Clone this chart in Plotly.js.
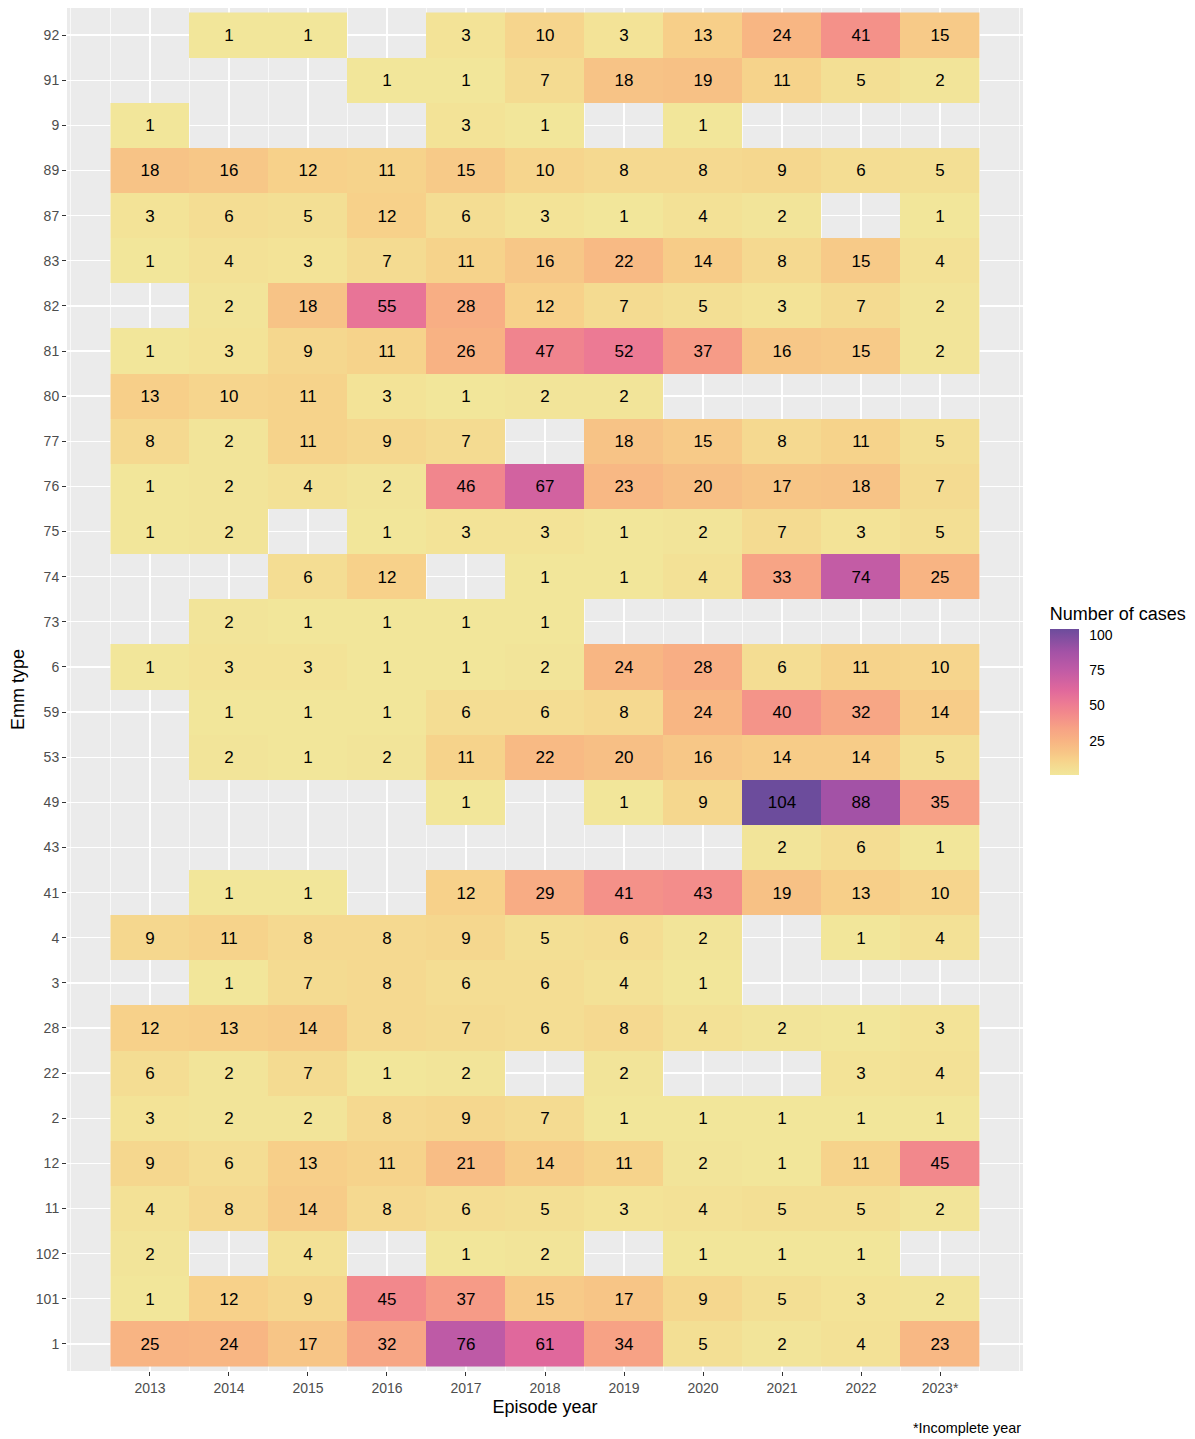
<!DOCTYPE html>
<html>
<head>
<meta charset="utf-8">
<script src="https://cdn.plot.ly/plotly-3.0.1.min.js"></script>
<style>
  html, body { margin: 0; padding: 0; background: #ffffff; }
  #chart { width: 1195px; height: 1439px; }
</style>
</head>
<body>
<div id="chart"></div>
<script>
// Episode years (x) and their tick labels
const years = [2013, 2014, 2015, 2016, 2017, 2018, 2019, 2020, 2021, 2022, 2023];
const yearLabels = ['2013', '2014', '2015', '2016', '2017', '2018', '2019', '2020', '2021', '2022', '2023*'];

// Emm types, bottom to top
const emmTypes = ['1', '101', '102', '11', '12', '2', '22', '28', '3', '4', '41', '43', '49', '53', '59',
                  '6', '73', '74', '75', '76', '77', '80', '81', '82', '83', '87', '89', '9', '91', '92'];

// Number of cases, one row per Emm type (same order), one column per year
const cases = [
  [25, 24, 17, 32, 76, 61, 34, 5, 2, 4, 23],              // 1
  [1, 12, 9, 45, 37, 15, 17, 9, 5, 3, 2],                 // 101
  [2, null, 4, null, 1, 2, null, 1, 1, 1, null],          // 102
  [4, 8, 14, 8, 6, 5, 3, 4, 5, 5, 2],                     // 11
  [9, 6, 13, 11, 21, 14, 11, 2, 1, 11, 45],               // 12
  [3, 2, 2, 8, 9, 7, 1, 1, 1, 1, 1],                      // 2
  [6, 2, 7, 1, 2, null, 2, null, null, 3, 4],             // 22
  [12, 13, 14, 8, 7, 6, 8, 4, 2, 1, 3],                   // 28
  [null, 1, 7, 8, 6, 6, 4, 1, null, null, null],          // 3
  [9, 11, 8, 8, 9, 5, 6, 2, null, 1, 4],                  // 4
  [null, 1, 1, null, 12, 29, 41, 43, 19, 13, 10],         // 41
  [null, null, null, null, null, null, null, null, 2, 6, 1], // 43
  [null, null, null, null, 1, null, 1, 9, 104, 88, 35],   // 49
  [null, 2, 1, 2, 11, 22, 20, 16, 14, 14, 5],             // 53
  [null, 1, 1, 1, 6, 6, 8, 24, 40, 32, 14],               // 59
  [1, 3, 3, 1, 1, 2, 24, 28, 6, 11, 10],                  // 6
  [null, 2, 1, 1, 1, 1, null, null, null, null, null],    // 73
  [null, null, 6, 12, null, 1, 1, 4, 33, 74, 25],         // 74
  [1, 2, null, 1, 3, 3, 1, 2, 7, 3, 5],                   // 75
  [1, 2, 4, 2, 46, 67, 23, 20, 17, 18, 7],                // 76
  [8, 2, 11, 9, 7, null, 18, 15, 8, 11, 5],               // 77
  [13, 10, 11, 3, 1, 2, 2, null, null, null, null],       // 80
  [1, 3, 9, 11, 26, 47, 52, 37, 16, 15, 2],               // 81
  [null, 2, 18, 55, 28, 12, 7, 5, 3, 7, 2],               // 82
  [1, 4, 3, 7, 11, 16, 22, 14, 8, 15, 4],                 // 83
  [3, 6, 5, 12, 6, 3, 1, 4, 2, null, 1],                  // 87
  [18, 16, 12, 11, 15, 10, 8, 8, 9, 6, 5],                // 89
  [1, null, null, null, 3, 1, null, 1, null, null, null], // 9
  [null, null, null, 1, 1, 7, 18, 19, 11, 5, 2],          // 91
  [null, 1, 1, null, 3, 10, 3, 13, 24, 41, 15]            // 92
];

const legendTicks = [25, 50, 75, 100];

const zMin = 1, zMax = 104;
function stop(v) { return (v - zMin) / (zMax - zMin); }
const colorscale = [
  [stop(1), '#F2E69A'],
  [stop(5), '#F3DF94'],
  [stop(12), '#F7D18A'],
  [stop(17), '#F7C586'],
  [stop(25), '#F8B483'],
  [stop(34), '#F7A285'],
  [stop(45), '#F2888C'],
  [stop(52), '#EC7A94'],
  [stop(61), '#E0689C'],
  [stop(76), '#BE5AA6'],
  [stop(88), '#A352A6'],
  [stop(104), '#6C4C9C']
];

const textVals = cases.map(r => r.map(v => (v === null ? '' : String(v))));
const FONT = 'Liberation Sans, Arial, sans-serif';

const trace = {
  type: 'heatmap',
  x: years,
  y: emmTypes,
  z: cases,
  text: textVals,
  texttemplate: '%{text}',
  textfont: { family: FONT, size: 17, color: '#000000' },
  colorscale: colorscale,
  zmin: zMin,
  zmax: zMax,
  xgap: 0,
  ygap: 0,
  hoverongaps: false,
  colorbar: {
    title: { text: 'Number of cases', side: 'top', font: { family: FONT, size: 18, color: '#000000' } },
    tickvals: legendTicks,
    ticktext: legendTicks.map(String),
    ticks: 'outside',
    ticklen: 8,
    tickcolor: 'rgba(0,0,0,0)',
    tickwidth: 1,
    tickfont: { family: FONT, size: 14, color: '#000000' },
    thickness: 29,
    thicknessmode: 'pixels',
    len: 171,
    lenmode: 'pixels',
    x: 1.028,
    xanchor: 'left',
    y: 0.4373,
    yanchor: 'bottom',
    outlinewidth: 0,
    xpad: 0,
    ypad: 0
  }
};

const layout = {
  width: 1195,
  height: 1439,
  margin: { l: 67, r: 172, t: 8, b: 68 },
  paper_bgcolor: '#ffffff',
  plot_bgcolor: '#EBEBEB',
  font: { family: FONT, color: '#4D4D4D' },
  xaxis: {
    type: 'linear',
    range: [2011.95, 2024.05],
    tickvals: years,
    ticktext: yearLabels,
    tickfont: { size: 14, color: '#4D4D4D' },
    ticks: 'outside',
    ticklen: 4,
    tickcolor: '#333333',
    tickwidth: 1,
    showgrid: true,
    gridcolor: '#ffffff',
    gridwidth: 1.4,
    minor: { dtick: 0.5, tick0: 2012, showgrid: true, gridcolor: '#ffffff', gridwidth: 0.7, ticks: '' },
    zeroline: false,
    showline: false,
    title: { text: 'Episode year', font: { size: 18, color: '#000000' }, standoff: 5 }
  },
  yaxis: {
    type: 'category',
    categoryorder: 'array',
    categoryarray: emmTypes,
    range: [-0.6, emmTypes.length - 0.4],
    tickfont: { size: 14, color: '#4D4D4D' },
    ticks: 'outside',
    ticklen: 4,
    tickcolor: '#333333',
    tickwidth: 1,
    showgrid: true,
    gridcolor: '#ffffff',
    gridwidth: 1.4,
    zeroline: false,
    showline: false,
    title: { text: 'Emm type', font: { size: 18, color: '#000000' }, standoff: 6 }
  },
  annotations: [
    {
      text: '*Incomplete year',
      xref: 'paper', yref: 'paper',
      x: 1, y: 0,
      xanchor: 'right', yanchor: 'top',
      yshift: -47,
      showarrow: false,
      font: { size: 14.4, color: '#000000' }
    }
  ]
};

Plotly.newPlot('chart', [trace], layout, { displayModeBar: false, staticPlot: true });
</script>
</body>
</html>
